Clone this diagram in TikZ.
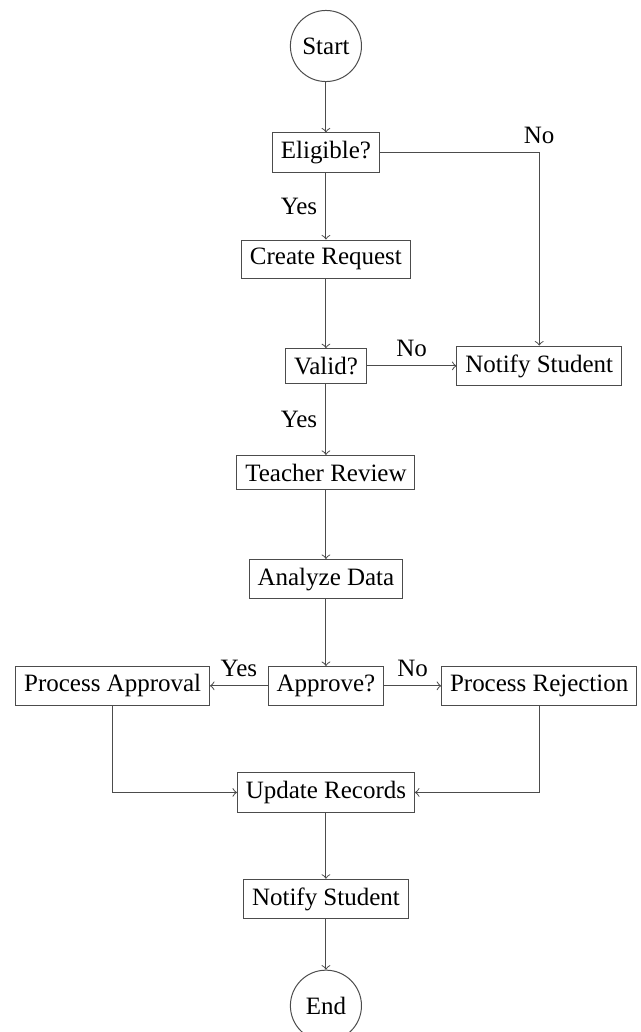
\documentclass[tikz,border=0pt]{standalone}
\usepackage{fontspec}
\setmainfont{Liberation Serif}
\usetikzlibrary{arrows,shapes}

\begin{document}
\begin{tikzpicture}
[>=to, draw=black!70,
terminal/.style={circle, draw=black!70, inner sep=0pt, minimum size=1cm},
process/.style={rectangle, draw=black!70},
decision/.style={rectangle, draw=black!70}]

\useasboundingbox (-4.585,0.647) rectangle (4.43,-13.87);

\node[terminal] (start) at (0,0) {Start};
\node[decision] (eligible) at (0,-1.5) {Eligible?}
  edge [<-] (start);
\node[process] (request) at (0,-3) {Create Request}
  edge [<-] node[left] {Yes} (eligible);
\node[decision] (valid) at (0,-4.5) {Valid?}
  edge [<-] (request);
\node[process] (notify1) at (3,-4.5) {Notify Student}
  edge [<-] node[above] {No} (valid);
\node[process] (review) at (0,-6) {Teacher Review}
  edge [<-] node[left] {Yes} (valid);
\node[process] (analyze) at (0,-7.5) {Analyze Data}
  edge [<-] (review);
\node[decision] (approve) at (0,-9) {Approve?}
  edge [<-] (analyze);
\node[process] (approval) at (-3,-9) {Process Approval}
  edge [<-] node[above] {Yes} (approve);
\node[process] (rejection) at (3,-9) {Process Rejection}
  edge [<-] node[above] {No} (approve);
\node[process] (records) at (0,-10.5) {Update Records};
\node[process] (notify2) at (0,-12) {Notify Student}
  edge [<-] (records);
\node[terminal] (end) at (0,-13.5) {End}
  edge [<-] (notify2);

\draw[->, black!70] (eligible) -| node[above, black] {No} (notify1);
\draw[->, black!70] (approval) |- (records);
\draw[->, black!70] (rejection) |- (records);
\end{tikzpicture}
\end{document}
